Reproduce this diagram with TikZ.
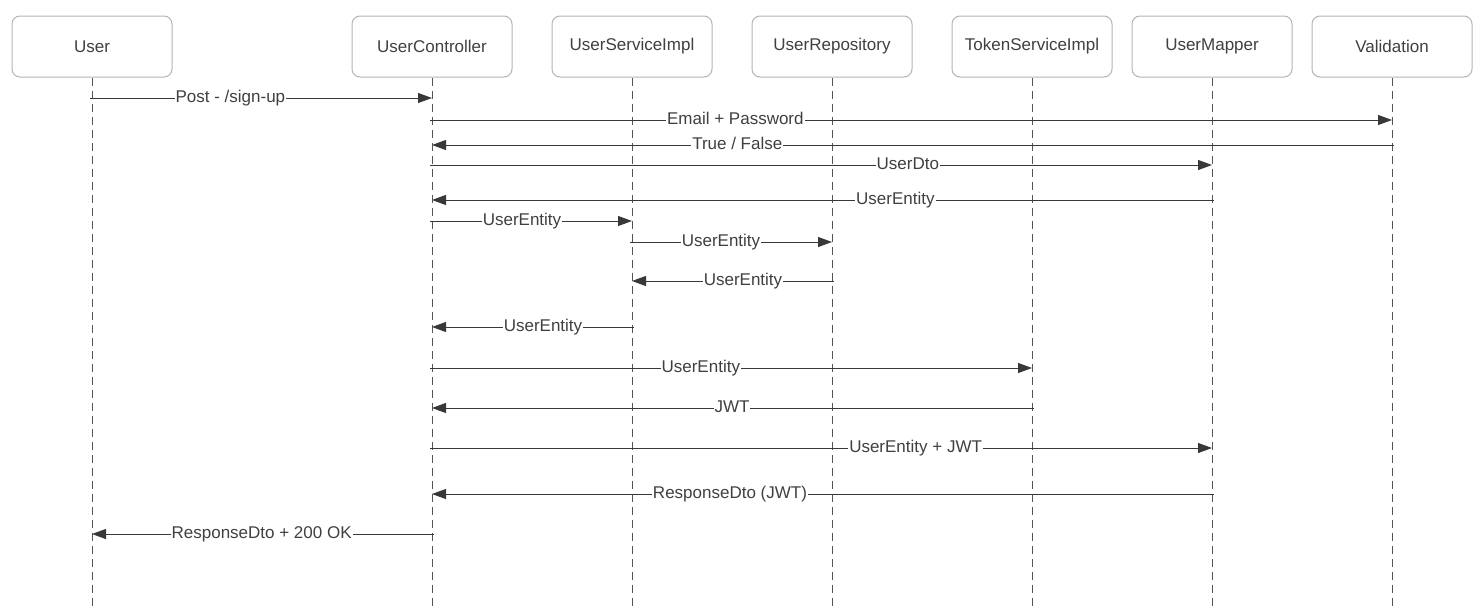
\documentclass[tikz,border=0pt]{standalone}
\usepackage{fontspec}
\setmainfont{Liberation Sans}
\usetikzlibrary{arrows.meta}
\definecolor{txt}{HTML}{404040}
\definecolor{boxc}{HTML}{B4B4B4}
\definecolor{linec}{HTML}{383838}
\definecolor{lifec}{HTML}{555555}
\begin{document}
\begin{tikzpicture}[x=1pt,y=-1pt,
  actor/.style={draw=boxc, line width=1pt, rounded corners=8pt, minimum width=160pt, minimum height=61pt, fill=white, font=\fontsize{17}{20}\selectfont, text=txt, inner sep=0pt},
  life/.style={draw=lifec, line width=1pt, dash pattern=on 8pt off 5pt},
  msg/.style={draw=linec, line width=1pt, shorten <=-2pt, -{Triangle[length=14pt,width=10pt]}},
  lbl/.style={fill=white, inner xsep=1pt, inner ysep=1pt, text=txt, font=\fontsize{17}{20}\selectfont, text height=12pt, text depth=0pt, yshift=2pt}
]
\useasboundingbox (0,0) rectangle (1482,608);
\coordinate (bot) at (0,608);
% lifelines first
\node[actor] (user) at (92,46.5) {User};
\node[actor] (ctl)  at (432,46.5) {UserController};
\node[actor] (svc)  at (632,46.5) {UserServiceImpl};
\node[actor] (repo) at (832,46.5) {UserRepository};
\node[actor] (tok)  at (1032,46.5) {TokenServiceImpl};
\node[actor] (map)  at (1212,46.5) {UserMapper};
\node[actor] (val)  at (1392,46.5) {Validation};
\foreach \a in {user,ctl,svc,repo,tok,map,val}{
  \draw[life] (\a.south) -- (\a.south |- bot);
}
% message levels
\coordinate (m1) at (0,98);
\coordinate (m2) at (0,120);
\coordinate (m3) at (0,145);
\coordinate (m4) at (0,165);
\coordinate (m5) at (0,200);
\coordinate (m6) at (0,221);
\coordinate (m7) at (0,242);
\coordinate (m8) at (0,281);
\coordinate (m9) at (0,327);
\coordinate (m10) at (0,368);
\coordinate (m11) at (0,408);
\coordinate (m12) at (0,448);
\coordinate (m13) at (0,494);
\coordinate (m14) at (0,534);
\draw[msg] (user |- m1) -- (ctl |- m1) node[lbl,pos=0.407]{Post - /sign-up};
\draw[msg] (ctl |- m2) -- (val |- m2) node[lbl,pos=0.316]{Email + Password};
\draw[msg] (val |- m3) -- (ctl |- m3) node[lbl,pos=0.682]{True / False};
\draw[msg] (ctl |- m4) -- (map |- m4) node[lbl,pos=0.610]{UserDto};
\draw[msg] (map |- m5) -- (ctl |- m5) node[lbl,pos=0.406]{UserEntity};
\draw[msg] (ctl |- m6) -- (svc |- m6) node[lbl,pos=0.45]{UserEntity};
\draw[msg] (svc |- m7) -- (repo |- m7) node[lbl,pos=0.445]{UserEntity};
\draw[msg] (repo |- m8) -- (svc |- m8) node[lbl,pos=0.445]{UserEntity};
\draw[msg] (svc |- m9) -- (ctl |- m9) node[lbl,pos=0.445]{UserEntity};
\draw[msg] (ctl |- m10) -- (tok |- m10) node[lbl,pos=0.448]{UserEntity};
\draw[msg] (tok |- m11) -- (ctl |- m11) node[lbl,pos=0.5]{JWT};
\draw[msg] (ctl |- m12) -- (map |- m12) node[lbl,pos=0.62]{UserEntity + JWT};
\draw[msg] (map |- m13) -- (ctl |- m13) node[lbl,pos=0.618]{ResponseDto (JWT)};
\draw[msg] (ctl |- m14) -- (user |- m14) node[lbl,pos=0.501]{ResponseDto + 200 OK};
\end{tikzpicture}
\end{document}
